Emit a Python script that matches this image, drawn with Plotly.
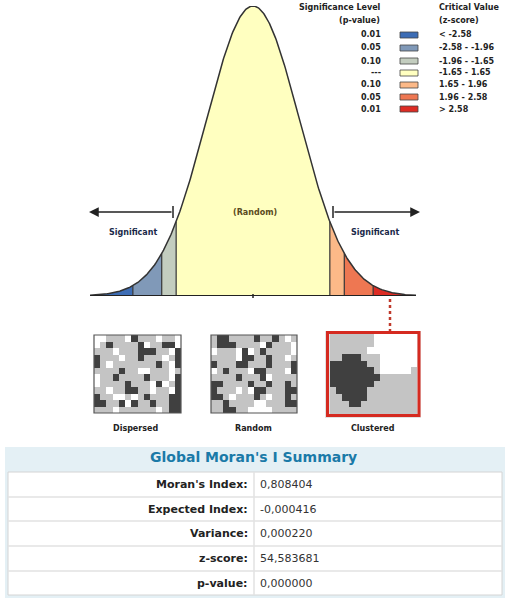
import numpy as np
import plotly.graph_objects as go

W, H = 510, 602
def px(x): return x / W
def py(y): return 1 - y / H

# ---------------- data ----------------
z_breaks = [-3.5, -2.58, -1.96, -1.65, 1.65, 1.96, 2.58, 3.5]
zone_colors = ["#3d6db5", "#8099b8", "#c3cdbf", "#ffffc0", "#fcb988", "#ee7752", "#dd2c24"]
p_values = ["0.01", "0.05", "0.10", "---", "0.10", "0.05", "0.01"]
z_labels = ["< -2.58", "-2.58 - -1.96", "-1.96 - -1.65", "-1.65 - 1.65",
            "1.65 - 1.96", "1.96 - 2.58", "> 2.58"]
map_labels = ["Dispersed", "Random", "Clustered"]
map_dispersed = [
    "00111021110110",
    "01211112011220",
    "11101112221102",
    "21110112111012",
    "21011111112102",
    "11112110011101",
    "01121111211102",
    "01111211102012",
    "11011221101102",
    "21100101211122",
    "22112021121122",
    "11101111110122",
]
map_random = [
    "12211112112101",
    "12221111021110",
    "01110201211110",
    "11110221121101",
    "21112211121112",
    "01211102211102",
    "11112111201111",
    "22111121121121",
    "21110102211122",
    "22101112101121",
    "11211110011122",
    "11221100001111",
]
map_clustered = [
    "11111110000000",
    "11111110000000",
    "11111100000000",
    "11222111000000",
    "22222211000000",
    "22222221000001",
    "22222222111111",
    "22222221111111",
    "12222211111111",
    "11222211111111",
    "11122111111111",
    "11111111111111",
]
summary_labels = ["Moran's Index:", "Expected Index:", "Variance:", "z-score:", "p-value:"]
summary_values = ["0,808404", "-0,000416", "0,000220", "54,583681", "0,000000"]

FONT = "DejaVu Sans"
fig = go.Figure()

# ---------------- normal curve ----------------
def pdf(z): return np.exp(-z ** 2 / 2) / np.sqrt(2 * np.pi)

for i in range(7):
    zz = np.linspace(z_breaks[i], z_breaks[i + 1], 80)
    fig.add_trace(go.Scatter(x=zz, y=pdf(zz), mode="lines", fill="tozeroy",
                             fillcolor=zone_colors[i], line=dict(width=0),
                             hoverinfo="skip", showlegend=False,
                             xaxis="x", yaxis="y"))
for b in z_breaks[1:-1]:
    fig.add_trace(go.Scatter(x=[b, b], y=[0, pdf(b)], mode="lines",
                             line=dict(color="#333333", width=1.2),
                             hoverinfo="skip", showlegend=False, xaxis="x", yaxis="y"))
zc = np.linspace(-3.5, 3.5, 400)
fig.add_trace(go.Scatter(x=zc, y=pdf(zc), mode="lines",
                         line=dict(color="#333333", width=1.5),
                         hoverinfo="skip", showlegend=False, xaxis="x", yaxis="y"))
fig.add_trace(go.Scatter(x=[-3.5, 3.5], y=[0, 0], mode="lines",
                         line=dict(color="#222222", width=2),
                         hoverinfo="skip", showlegend=False, xaxis="x", yaxis="y"))

# ---------------- maps ----------------
map_boxes = [(94, 181, 335, 413), (211, 297, 335, 413), (330, 417, 334, 414)]
grids = [map_dispersed, map_random, map_clustered]
cs = [[0, "#ffffff"], [0.33, "#ffffff"], [0.33, "#c4c4c4"], [0.67, "#c4c4c4"],
      [0.67, "#404040"], [1, "#404040"]]
for k, (g, box) in enumerate(zip(grids, map_boxes)):
    zz = [[int(c) for c in row] for row in g]
    n = k + 2
    fig.add_trace(go.Heatmap(z=zz, colorscale=cs, zmin=0, zmax=2, showscale=False,
                             hoverinfo="skip", xaxis=f"x{n}", yaxis=f"y{n}"))

layout_axes = {}
def hide(d): return dict(domain=d, visible=False, fixedrange=True)
layout_axes["xaxis"] = dict(hide([px(90), px(416)]), range=[-3.5, 3.5])
layout_axes["yaxis"] = dict(hide([py(296), py(6)]), range=[0, pdf(0)])
for k, (x0, x1, y0, y1) in enumerate(map_boxes):
    n = k + 2
    layout_axes[f"xaxis{n}"] = dict(hide([px(x0), px(x1)]), range=[-0.5, 13.5])
    layout_axes[f"yaxis{n}"] = dict(hide([py(y1), py(y0)]), range=[11.5, -0.5])

shapes = []
for k, (x0, x1, y0, y1) in enumerate(map_boxes):
    if k < 2:
        shapes.append(dict(type="rect", xref="paper", yref="paper",
                           x0=px(x0), x1=px(x1), y0=py(y1), y1=py(y0),
                           line=dict(color="#555555", width=1.2)))
# clustered shadow + red frame
shapes.append(dict(type="rect", xref="paper", yref="paper", layer="below",
                   x0=px(325), x1=px(421), y0=py(418), y1=py(331),
                   fillcolor="#e2e2e2", line=dict(width=0)))
shapes.append(dict(type="rect", xref="paper", yref="paper",
                   x0=px(327.5), x1=px(419), y0=py(415.5), y1=py(332.5),
                   line=dict(color="#d52a20", width=3)))
# dotted connector
shapes.append(dict(type="line", xref="paper", yref="paper",
                   x0=px(390), x1=px(390), y0=py(299), y1=py(331),
                   line=dict(color="#c0392b", width=2.5, dash="dot")))
# arrow end ticks
for xt in (173, 333):
    shapes.append(dict(type="line", xref="paper", yref="paper",
                       x0=px(xt), x1=px(xt), y0=py(206), y1=py(218),
                       line=dict(color="#222222", width=1.5)))
# center tick
shapes.append(dict(type="line", xref="paper", yref="paper",
                   x0=px(253), x1=px(253), y0=py(294), y1=py(298),
                   line=dict(color="#222222", width=1.5)))
# legend swatches
leg_rows = [35, 48, 61, 73, 85, 97, 109]
for i, yy in enumerate(leg_rows):
    shapes.append(dict(type="rect", xref="paper", yref="paper",
                       x0=px(400), x1=px(418), y0=py(yy + 3), y1=py(yy - 3),
                       fillcolor=zone_colors[i], line=dict(color="#444444", width=0.8)))
# summary table
shapes.append(dict(type="rect", xref="paper", yref="paper", layer="below",
                   x0=px(5), x1=px(505), y0=py(598), y1=py(447),
                   fillcolor="#e4f0f5", line=dict(width=0)))
shapes.append(dict(type="rect", xref="paper", yref="paper", layer="below",
                   x0=px(8), x1=px(502), y0=py(595), y1=py(472),
                   fillcolor="#ffffff", line=dict(color="#d4d4d4", width=1)))
row_tops = [472, 497, 521, 546, 571, 595]
for yy in row_tops[1:-1]:
    shapes.append(dict(type="line", xref="paper", yref="paper",
                       x0=px(8), x1=px(502), y0=py(yy), y1=py(yy),
                       line=dict(color="#e2e2e2", width=1.5)))
shapes.append(dict(type="line", xref="paper", yref="paper",
                   x0=px(254), x1=px(254), y0=py(472), y1=py(595),
                   line=dict(color="#e2e2e2", width=1.5)))

ann = []
def txt(x, y, s, size=9, bold=False, color="#222222", xanchor="center"):
    ann.append(dict(x=px(x), y=py(y), xref="paper", yref="paper", text=(f"<b>{s}</b>" if bold else s),
                    showarrow=False, xanchor=xanchor, yanchor="middle",
                    font=dict(family=FONT, size=size, color=color)))

# legend text
txt(383, 8, "Significance Level", 8, True, xanchor="right")
txt(382, 21, "(p-value)", 8, True, xanchor="right")
txt(437, 8, "Critical Value", 8, True, xanchor="left")
txt(437, 21, "(z-score)", 8, True, xanchor="left")
for i, yy in enumerate(leg_rows):
    txt(383, yy, p_values[i], 8, True, xanchor="right")
    txt(437, yy, z_labels[i], 8, True, xanchor="left")

# arrows
ann.append(dict(x=px(89), y=py(212), ax=84, ay=0, xref="paper", yref="paper",
                showarrow=True, arrowhead=2, arrowsize=1.3, arrowwidth=1.5,
                arrowcolor="#222222", text=""))
ann.append(dict(x=px(420), y=py(212), ax=-87, ay=0, xref="paper", yref="paper",
                showarrow=True, arrowhead=2, arrowsize=1.3, arrowwidth=1.5,
                arrowcolor="#222222", text=""))
txt(133, 232, "Significant", 8, True, color="#1a2a4a")
txt(375, 232, "Significant", 8, True, color="#1a2a4a")
txt(255, 213, "(Random)", 8, True, color="#5a4a20")

# map labels
for lab, xc in zip(map_labels, [135, 253, 373]):
    txt(xc, 428, lab, 8, True)

# summary
txt(253, 457, "Global Moran's I Summary", 14, True, color="#1a7aa8")
for i, (l, v) in enumerate(zip(summary_labels, summary_values)):
    yc = (row_tops[i] + row_tops[i + 1]) / 2
    txt(250, yc, l, 11, True, xanchor="right")
    txt(258, yc, v, 11, False, color="#333333", xanchor="left")

fig.update_layout(width=W, height=H, margin=dict(l=0, r=0, t=0, b=0),
                  paper_bgcolor="white", plot_bgcolor="rgba(0,0,0,0)",
                  shapes=shapes, annotations=ann, showlegend=False, **layout_axes)
fig.write_html("out.html", config={"displayModeBar": False, "staticPlot": True},
               post_script="document.body.style.margin='0';document.body.style.overflow='hidden';")
